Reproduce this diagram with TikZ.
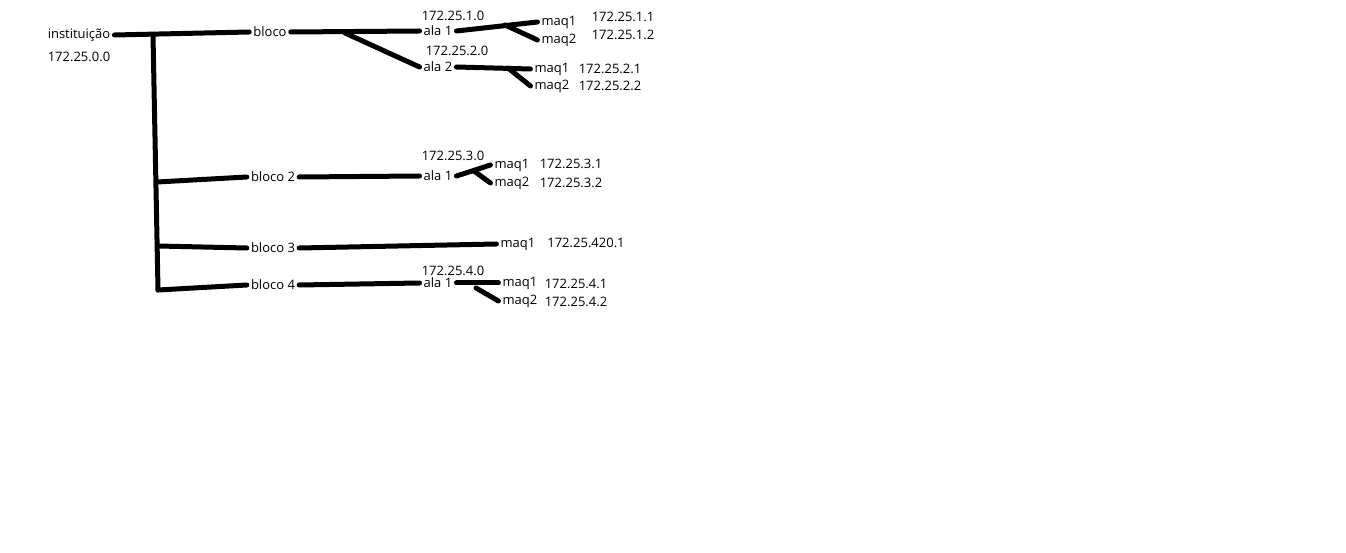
\documentclass[tikz,border=0pt]{standalone}
\usepackage{fontspec}
\setmainfont{Open Sans}
\usepackage{tikz}
\usetikzlibrary{positioning}
\tikzset{
  netname/.style={inner sep=4pt,font=\fontsize{13}{15}\selectfont},
  netip/.style={inner sep=1pt,font=\fontsize{13}{15}\selectfont},
  netwire/.style={line width=5pt,line cap=round,black}
}

\begin{document}
\begin{tikzpicture}[x=1pt,y=-1pt]
  \useasboundingbox[fill=white] (0,0) rectangle (1346,553);

  % institution and trunk
  \node[netname] (inst) at (79,35) {instituição};
  \node[netip] (instip) at (79,57) {172.25.0.0};
  \coordinate (trtop) at (153,35);
  \coordinate (tr2) at (157,182);
  \coordinate (tr3) at (158,246);
  \coordinate (tr4) at (158,290);

  % blocks
  \node[netname] (bl1) at (270,32) {bloco};
  \node[netname] (bl2) at (273,177) {bloco 2};
  \node[netname] (bl3) at (273,248) {bloco 3};
  \node[netname] (bl4) at (273,285) {bloco 4};

  \draw[netwire] (inst.east) -- (bl1.west);
  \draw[netwire] (trtop) -- (tr4);
  \draw[netwire] (tr2) -- (bl2.west);
  \draw[netwire] (tr3) -- (bl3.west);
  \draw[netwire] (tr4) -- (bl4.west);

  % bloco
  \node[netname] (b1a1) at (438,31) {ala 1};
  \node[netip] (b1a1ip) at (453,16) {172.25.1.0};
  \node[netname] (b1a2) at (438,67) {ala 2};
  \node[netip] (b1a2ip) at (457,51) {172.25.2.0};
  \coordinate (b1fork) at (345,33);
  \draw[netwire] (bl1.east) -- (b1a1.west);
  \draw[netwire] (b1fork) -- (b1a2.west);

  \node[netname] (b1a1m1) at (559,22) {maq1};
  \node[netname] (b1a1m2) at (559,40) {maq2};
  \node[netip] (b1a1m1ip) at (623,17) {172.25.1.1};
  \node[netip] (b1a1m2ip) at (623,35) {172.25.1.2};
  \coordinate (b1a1fork) at (505,25);
  \draw[netwire] (b1a1.east) -- (b1a1m1.west);
  \draw[netwire] (b1a1fork) -- (b1a1m2.west);

  \node[netname] (b1a2m1) at (552,69) {maq1};
  \node[netname] (b1a2m2) at (552,86) {maq2};
  \node[netip] (b1a2m1ip) at (610,69) {172.25.2.1};
  \node[netip] (b1a2m2ip) at (610,86) {172.25.2.2};
  \coordinate (b1a2fork) at (508,68);
  \draw[netwire] (b1a2.east) -- (b1a2m1.west);
  \draw[netwire] (b1a2fork) -- (b1a2m2.west);

  % bloco 2
  \node[netname] (b2a1) at (438,176) {ala 1};
  \node[netip] (b2a1ip) at (453,156) {172.25.3.0};
  \draw[netwire] (bl2.east) -- (b2a1.west);
  \node[netname] (b2a1m1) at (512,165) {maq1};
  \node[netname] (b2a1m2) at (512,183) {maq2};
  \node[netip] (b2a1m1ip) at (571,164) {172.25.3.1};
  \node[netip] (b2a1m2ip) at (571,183) {172.25.3.2};
  \coordinate (b2a1fork) at (474,171);
  \draw[netwire] (b2a1.east) -- (b2a1m1.west);
  \draw[netwire] (b2a1fork) -- (b2a1m2.west);

  % bloco 3
  \node[netname] (b3m1) at (518,244) {maq1};
  \node[netip] (b3m1ip) at (586,243) {172.25.420.1};
  \draw[netwire] (bl3.east) -- (b3m1.west);

  % bloco 4
  \node[netname] (b4a1) at (438,283) {ala 1};
  \node[netip] (b4a1ip) at (453,271) {172.25.4.0};
  \draw[netwire] (bl4.east) -- (b4a1.west);
  \node[netname] (b4a1m1) at (520,283) {maq1};
  \node[netname] (b4a1m2) at (520,301) {maq2};
  \node[netip] (b4a1m1ip) at (576,284) {172.25.4.1};
  \node[netip] (b4a1m2ip) at (576,302) {172.25.4.2};
  \coordinate (b4a1fork) at (476,288);
  \draw[netwire] (b4a1.east) -- (b4a1m1.west);
  \draw[netwire] (b4a1fork) -- (b4a1m2.west);
\end{tikzpicture}
\end{document}
